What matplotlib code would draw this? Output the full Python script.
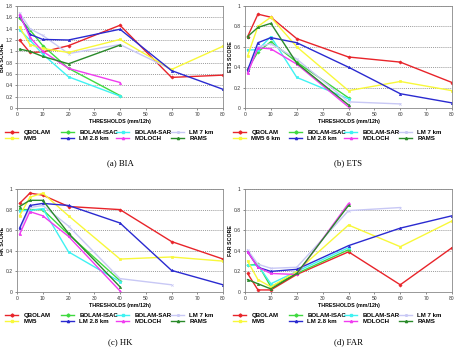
import matplotlib
matplotlib.use("Agg")
import matplotlib.pyplot as plt
from matplotlib.lines import Line2D

plt.rcParams["font.family"] = ["Liberation Sans", "DejaVu Sans"]

# thresholds (mm/12h)
thresholds = [1, 5, 10, 20, 40, 60, 80]

models = ["QBOLAM", "BOLAM-ISAC", "BOLAM-SAR", "LM 7 km",
          "MM5", "LM 2.8 km", "MOLOCH", "RAMS"]
colors = ["#e8242a", "#3fd93f", "#3ff2f2", "#c8c8f5",
          "#f8f83a", "#2a2ad0", "#f03cf0", "#2a8a2a"]
markers = ["D", "D", "s", "x", "s", "^", "^", "^"]

bia = {
    "QBOLAM": [1.20, 0.98, 0.99, 1.10, 1.46, 0.54, 0.58],
    "BOLAM-ISAC": [1.58, 1.38, 1.10, 0.70, 0.22],
    "BOLAM-SAR": [1.38, 1.20, 0.95, 0.55, 0.21],
    "LM 7 km": [1.68, 1.40, 1.28, 0.96, 1.12, 0.68],
    "MM5": [1.43, 1.12, 1.05, 0.98, 1.21, 0.68, 1.09],
    "LM 2.8 km": [1.63, 1.30, 1.21, 1.20, 1.39, 0.66, 0.33],
    "MOLOCH": [1.65, 1.25, 1.00, 0.70, 0.45],
    "RAMS": [1.04, 1.00, 0.91, 0.78, 1.11],
}
ets = {
    "QBOLAM": [0.70, 0.92, 0.89, 0.68, 0.50, 0.45, 0.25],
    "BOLAM-ISAC": [0.38, 0.55, 0.65, 0.45, 0.10],
    "BOLAM-SAR": [0.57, 0.57, 0.70, 0.30, 0.09],
    "LM 7 km": [0.35, 0.60, 0.63, 0.48, 0.06, 0.04],
    "MM5": [0.51, 0.80, 0.89, 0.60, 0.17, 0.26, 0.17],
    "LM 2.8 km": [0.37, 0.64, 0.69, 0.64, 0.40, 0.14, 0.05],
    "MOLOCH": [0.34, 0.59, 0.58, 0.43, 0.01],
    "RAMS": [0.70, 0.79, 0.83, 0.44, 0.03],
}
hk = {
    "QBOLAM": [0.86, 0.96, 0.94, 0.83, 0.80, 0.49, 0.32],
    "BOLAM-ISAC": [0.80, 0.80, 0.80, 0.56, 0.11],
    "BOLAM-SAR": [0.79, 0.79, 0.81, 0.39, 0.10],
    "LM 7 km": [0.60, 0.82, 0.84, 0.64, 0.13, 0.07],
    "MM5": [0.74, 0.92, 0.96, 0.74, 0.32, 0.34, 0.30],
    "LM 2.8 km": [0.62, 0.84, 0.86, 0.84, 0.67, 0.21, 0.07],
    "MOLOCH": [0.56, 0.78, 0.74, 0.54, 0.01],
    "RAMS": [0.83, 0.89, 0.89, 0.57, 0.05],
}
far = {
    "QBOLAM": [0.18, 0.02, 0.02, 0.17, 0.39, 0.07, 0.43],
    "BOLAM-ISAC": [0.26, 0.27, 0.05, 0.18, 0.41],
    "BOLAM-SAR": [0.26, 0.26, 0.08, 0.20, 0.43],
    "LM 7 km": [0.41, 0.27, 0.23, 0.24, 0.79, 0.82],
    "MM5": [0.30, 0.12, 0.05, 0.20, 0.65, 0.44, 0.69],
    "LM 2.8 km": [0.39, 0.24, 0.20, 0.22, 0.45, 0.62, 0.74],
    "MOLOCH": [0.39, 0.24, 0.18, 0.17, 0.86],
    "RAMS": [0.12, 0.08, 0.03, 0.18, 0.84],
}

W, H = 457, 351
fig = plt.figure(figsize=(W / 100, H / 100), dpi=100)


def px_axes(left, top, right, bottom):
    return fig.add_axes([left / W, 1 - bottom / H, (right - left) / W, (bottom - top) / H])


def tick_fmt(v):
    s = f"{v:.1f}"
    return s[:-2] if s.endswith(".0") else s


def draw_panel(ax, data, ylabel, ymax, ystep, caption, cap_xy, leg_xy, mm5_name="MM5"):
    for m, c, mk in zip(models, colors, markers):
        y = data[m]
        ax.plot(thresholds[:len(y)], y, color=c, lw=1.0, marker=mk, ms=1.6,
                mec=c, mfc=c, mew=0.5)
    ax.set_xlim(0, 80)
    ax.set_ylim(0, ymax)
    yt = [round(i * ystep, 2) for i in range(int(round(ymax / ystep)) + 1)]
    ax.set_yticks(yt)
    ax.set_yticklabels([tick_fmt(v) for v in yt])
    ax.set_xticks(range(0, 81, 10))
    for v in yt[1:]:
        ax.axhline(v, color="#777777", lw=0.5, ls=(0, (1.5, 1.5)), zorder=0)
    ax.tick_params(labelsize=3.6, length=1.5, width=0.4, pad=1.5, colors="#333333")
    for sp in ax.spines.values():
        sp.set_color("#888888")
        sp.set_linewidth(0.6)
    ax.set_xlabel("THRESHOLDS (mm/12h)", fontsize=3.8, fontweight="bold", labelpad=1.5)
    ax.set_ylabel(ylabel, fontsize=3.8, fontweight="bold", labelpad=0.5)

    # legend laid out in four columns, row-major like the original
    names = [n if n != "MM5" else mm5_name for n in models]
    col_x = [0, 56, 111, 166]
    for j in range(4):
        hs = []
        for i in (j, j + 4):
            hs.append(Line2D([], [], color=colors[i], lw=1.0, marker=markers[i],
                             ms=1.6, mec=colors[i], mfc=colors[i], label=names[i]))
        fig.legend(handles=hs, loc="upper left",
                   bbox_to_anchor=((leg_xy[0] + col_x[j]) / W, 1 - leg_xy[1] / H),
                   frameon=False, prop={"size": 4.4, "weight": "bold"},
                   handlelength=2.2, handletextpad=0.8, labelspacing=0.15,
                   borderpad=0, borderaxespad=0)
    fig.text(cap_xy[0] / W, 1 - cap_xy[1] / H, caption, ha="center", va="center",
             fontsize=6.3, family=["Liberation Serif", "DejaVu Serif"])


ax_a = px_axes(17, 6, 223, 108)
draw_panel(ax_a, bia, "BIA SCORE", 1.8, 0.2, "(a) BIA", (120, 163), (5, 130))
ax_b = px_axes(245, 6, 452, 108)
draw_panel(ax_b, ets, "ETS SCORE", 1.0, 0.2, "(b) ETS", (348, 163), (233, 130), "MM5 6 km")
ax_c = px_axes(17, 189, 223, 292)
draw_panel(ax_c, hk, "HK SCORE", 1.0, 0.2, "(c) HK", (120, 342), (5, 313))
ax_d = px_axes(245, 189, 452, 292)
draw_panel(ax_d, far, "FAR SCORE", 1.0, 0.2, "(d) FAR", (348, 342), (233, 313))

fig.savefig("out.png", dpi=100)
